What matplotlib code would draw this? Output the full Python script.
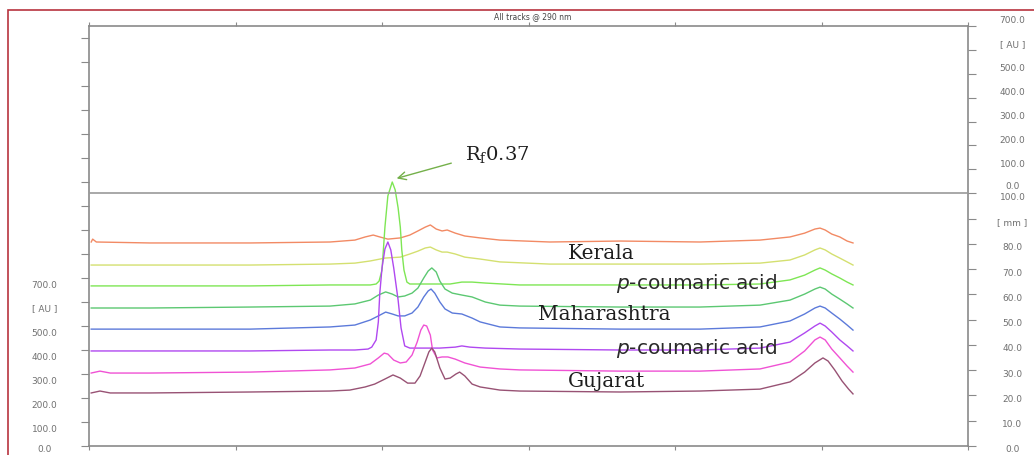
import matplotlib
matplotlib.use("Agg")
import matplotlib.pyplot as plt
import matplotlib.transforms as mtransforms
from matplotlib.patches import Rectangle

plt.rcParams['mathtext.fontset'] = 'custom'
plt.rcParams['mathtext.rm'] = 'DejaVu Serif'
plt.rcParams['mathtext.it'] = 'DejaVu Sans:italic'

# ---- densitograms, scan position along track vs absorbance (AU, stacked) ----
track_1_x = [0.3, 0.5, 1.0, 8.3, 22.0, 32.9, 36.3, 37.7, 38.8, 39.7, 40.8, 42.5, 43.8, 44.9, 45.9, 46.6, 47.4, 48.2,
             48.9, 50.0, 51.3, 53.4, 56.1, 62.9, 72.5, 83.4, 91.6, 95.7, 97.7, 99.1, 99.8, 100.5, 101.4, 102.5, 103.5, 104.3]
track_1_au = [850, 862, 850, 846, 846, 850, 858, 871, 879, 871, 862, 867, 879, 896, 912, 921, 904, 896,
              900, 887, 875, 867, 858, 850, 854, 850, 858, 871, 887, 904, 908, 900, 883, 871, 854, 846]

track_2_x = [0.3, 8.3, 22.0, 32.9, 36.3, 38.4, 40.4, 42.5, 43.8, 44.9, 45.9, 46.6, 47.4, 48.2, 48.9, 50.0,
             51.3, 53.4, 56.1, 62.9, 72.5, 83.4, 91.6, 95.7, 97.7, 99.1, 99.8, 100.5, 101.4, 102.5, 103.5, 104.3]
track_2_au = [754, 754, 754, 758, 762, 771, 783, 787, 800, 812, 825, 829, 817, 808, 808, 800,
              787, 779, 767, 758, 758, 758, 762, 775, 796, 817, 825, 817, 800, 783, 767, 754]

track_3_x = [0.3, 8.3, 22.0, 32.9, 36.3, 38.4, 39.2, 39.6, 40.0, 40.4, 40.8, 41.4, 41.8, 42.2, 42.5, 42.7, 43.0, 43.4,
             43.8, 46.6, 49.3, 50.9, 52.3, 54.1, 58.8, 72.5, 83.4, 91.6, 95.7, 97.7, 99.1, 99.8, 100.5, 101.4, 102.5,
             103.5, 104.3]
track_3_au = [667, 667, 667, 671, 671, 671, 675, 687, 733, 912, 1042, 1100, 1067, 992, 912, 817, 733, 683,
              675, 675, 675, 683, 683, 679, 671, 671, 671, 675, 692, 712, 733, 742, 733, 717, 700,
              683, 671]

track_4_x = [0.3, 8.3, 22.0, 32.9, 36.3, 38.4, 39.5, 40.5, 41.4, 42.2, 43.1, 44.1, 44.9, 45.7, 46.3, 46.8, 47.4, 47.9,
             48.6, 49.6, 50.9, 52.3, 54.1, 56.1, 58.8, 72.5, 83.4, 91.6, 95.7, 97.7, 99.1, 99.8, 100.5, 101.4, 102.5,
             103.5, 104.3]
track_4_au = [575, 575, 579, 583, 592, 608, 629, 642, 633, 621, 625, 637, 658, 700, 729, 742, 725, 687,
              654, 637, 629, 621, 600, 587, 583, 579, 579, 587, 608, 633, 654, 662, 654, 633, 612,
              592, 575]

track_5_x = [0.3, 8.3, 22.0, 32.9, 36.3, 38.4, 39.5, 40.5, 41.4, 42.2, 43.1, 44.1, 44.9, 45.7, 46.3, 46.7, 47.2, 47.9,
             48.6, 49.6, 50.9, 52.3, 53.4, 56.1, 58.8, 72.5, 83.4, 91.6, 95.7, 97.7, 99.1, 99.8, 100.5, 101.4, 102.5,
             103.5, 104.3]
track_5_au = [487, 487, 487, 496, 504, 525, 542, 558, 550, 542, 542, 554, 579, 621, 646, 654, 637, 600,
              571, 554, 550, 533, 517, 496, 492, 487, 487, 496, 521, 550, 575, 583, 575, 554, 529,
              504, 483]

track_6_x = [0.3, 8.3, 22.0, 32.9, 36.3, 38.1, 38.6, 39.2, 39.5, 39.7, 40.0, 40.4, 40.8, 41.2, 41.6, 41.9, 42.2, 42.6,
             43.1, 43.8, 47.9, 50.0, 50.9, 52.0, 54.1, 58.8, 72.5, 83.4, 91.6, 95.7, 97.7, 99.1, 99.8, 100.5, 101.4,
             102.5, 103.5, 104.3]
track_6_au = [396, 396, 396, 400, 400, 404, 412, 442, 517, 637, 742, 821, 850, 817, 742, 675, 608, 492,
              417, 408, 408, 412, 417, 412, 408, 404, 400, 400, 408, 433, 471, 500, 512, 500, 475,
              442, 417, 396]

track_7_x = [0.3, 1.5, 2.9, 8.3, 22.0, 32.9, 36.3, 38.4, 39.5, 40.3, 40.8, 41.6, 42.5, 43.3, 44.1, 44.8, 45.3, 45.7,
             46.1, 46.6, 46.9, 47.5, 48.2, 49.0, 50.0, 51.3, 53.4, 56.1, 58.8, 72.5, 83.4, 91.6, 95.7, 97.7, 99.1,
             99.8, 100.5, 101.4, 102.5, 103.5, 104.3]
track_7_au = [304, 312, 304, 304, 308, 317, 325, 342, 367, 387, 383, 358, 346, 350, 379, 433, 483, 504,
              500, 462, 400, 367, 371, 371, 362, 346, 329, 321, 317, 312, 312, 321, 350, 396, 442,
              454, 442, 404, 367, 333, 308]

track_8_x = [0.3, 1.5, 2.9, 8.3, 22.0, 32.9, 35.6, 37.7, 39.0, 40.4, 41.5, 42.5, 43.5, 44.5, 45.2, 45.9, 46.4, 46.8,
             47.2, 47.9, 48.6, 49.3, 50.1, 50.6, 51.3, 52.3, 53.4, 56.1, 58.8, 72.5, 83.4, 91.6, 95.7, 97.7, 99.1,
             100.2, 100.9, 101.8, 102.8, 103.7, 104.3]
track_8_au = [221, 229, 221, 221, 225, 229, 233, 246, 258, 279, 296, 283, 262, 262, 292, 350, 392, 408,
              392, 325, 279, 283, 300, 308, 292, 258, 246, 233, 229, 225, 229, 237, 267, 308, 346,
              367, 354, 317, 271, 237, 217]

track_colors = ['#f28a64', '#d4e070', '#7ee654', '#5cc872', '#5c7ada', '#b048f0', '#f052d4', '#985274']

# sample names written beside the tracks (x, AU)
sample_labels = ['Kerala', 'Maharashtra', 'Gujarat']
sample_label_x = [69.9, 70.3, 70.6]
sample_label_au = [804, 546, 267]
std_label_x = [82.9, 82.9]
std_label_au = [679, 408]

rf_text = 'R$_{\\mathrm{f}}$0.37'

# axis scales
left_au_ticks = list(range(0, 1800, 100))
left_au_labels = ['0.0', '100.0', '200.0', '300.0', '400.0', '500.0', '[ AU ]', '700.0']
mm_ticks = list(range(0, 110, 10))
mm_labels = ['0.0', '10.0', '20.0', '30.0', '40.0', '50.0', '60.0', '70.0', '80.0', '[ mm ]', '0.0\n100.0']
upper_au_ticks = [100, 200, 300, 400, 500, 600, 700]
upper_au_labels = ['100.0', '200.0', '300.0', '400.0', '500.0', '[ AU ]', '700.0']

AU_TOP = 1750
PLATE_AU = 1058          # AU level of the 100 mm line
MM_TOP = AU_TOP * 100 / PLATE_AU

fig = plt.figure(figsize=(10.34, 4.55), dpi=100)
ax = fig.add_axes([89 / 1034, 9 / 455, 879 / 1034, 420 / 455])

tracks = [(track_1_x, track_1_au), (track_2_x, track_2_au), (track_3_x, track_3_au), (track_4_x, track_4_au),
          (track_5_x, track_5_au), (track_6_x, track_6_au), (track_7_x, track_7_au), (track_8_x, track_8_au)]
for (tx, ty), c in zip(tracks, track_colors):
    ax.plot(tx, ty, color=c, lw=1.0, solid_joinstyle='round')

ax.set_xlim(0, 120)
ax.set_ylim(0, AU_TOP)

spine_c = '#8a8a8a'
for s in ax.spines.values():
    s.set_color(spine_c)
    s.set_linewidth(1.2)

ax.set_xticks(range(0, 121, 20))
ax.tick_params(axis='x', which='both', bottom=True, top=True, labelbottom=False, labeltop=False,
               direction='out', length=3, width=0.8, color=spine_c)
ax.set_yticks(left_au_ticks)
ax.set_yticklabels(left_au_labels + [''] * (len(left_au_ticks) - len(left_au_labels)))
ax.tick_params(axis='y', direction='out', length=6, width=0.8, color=spine_c,
               labelsize=6.5, labelcolor='#707070', pad=26)
for i, lab in enumerate(ax.get_yticklabels()):
    dy = -3 if i == 0 else -6
    lab.set_horizontalalignment('center')
    lab.set_transform(lab.get_transform() + mtransforms.ScaledTranslation(0, dy / 100, fig.dpi_scale_trans))

# right side: mm scale of the plate plus the AU scale above it
ax2 = ax.twinx()
ax2.set_ylim(0, MM_TOP)
for s in ax2.spines.values():
    s.set_visible(False)
right_ticks = mm_ticks + [100 + v * 100 / PLATE_AU for v in upper_au_ticks]
ax2.set_yticks(right_ticks)
ax2.set_yticklabels(mm_labels + upper_au_labels)
ax2.tick_params(axis='y', direction='out', length=6, width=0.8, color=spine_c,
                labelsize=6.5, labelcolor='#707070', pad=26)
for i, lab in enumerate(ax2.get_yticklabels()):
    lab.set_horizontalalignment('center')
    lab.set_multialignment('center')
    if i < 10:
        dy = -3
    elif i == 10:
        dy = 3
    else:
        dy = 6
    lab.set_transform(lab.get_transform() + mtransforms.ScaledTranslation(0, dy / 100, fig.dpi_scale_trans))

ax2.axhline(100, color='#9a9a9a', lw=1.2)

for name, lx, ly in zip(sample_labels, sample_label_x, sample_label_au):
    ax.text(lx, ly, name, ha='center', va='center', fontsize=14.5, family='DejaVu Serif', color='#1e1e1e')
for lx, ly in zip(std_label_x, std_label_au):
    ax.text(lx, ly, '$\\mathit{p}$-coumaric acid', ha='center', va='center', fontsize=14.5,
            family='DejaVu Sans', color='#2a2a2a')

# Rf marker on the reference band peak
i_max = track_3_au.index(max(track_3_au))
ax.annotate(rf_text, xy=(track_3_x[i_max] + 0.6, track_3_au[i_max] + 15), xytext=(51.3, 1212),
            fontsize=14, family='DejaVu Serif', color='#1e1e1e', ha='left', va='center',
            arrowprops=dict(arrowstyle='->', color='#74b04a', lw=1.0, shrinkA=8, shrinkB=0,
                            relpos=(0, 0.3)))

fig.text(533 / 1034, 1 - 17 / 455, 'All tracks @ 290 nm', fontsize=5.5, ha='center', va='center', color='#444444')

fig.patches.append(Rectangle((8 / 1034, -0.1), 1.2, 1.1 - 10.5 / 455, transform=fig.transFigure,
                             fill=False, ec='#b8343e', lw=1.2))

fig.savefig('out.png', dpi=100)
